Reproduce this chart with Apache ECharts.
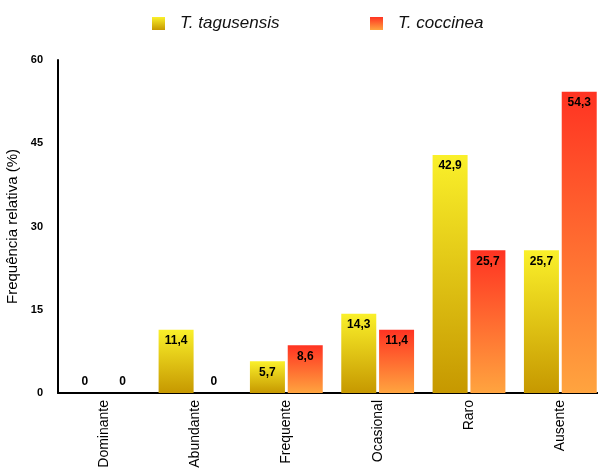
<!DOCTYPE html>
<html>
<head>
<meta charset="utf-8">
<script src="https://cdn.jsdelivr.net/npm/echarts@6/dist/echarts.min.js"></script>
<style>
  html, body { margin: 0; padding: 0; background: #fff; }
  #chart { width: 598px; height: 471px; }
</style>
</head>
<body>
<div id="chart"></div>
<script>
// Abundance classes and relative frequency (%) per species
const categories = ['Dominante', 'Abundante', 'Frequente', 'Ocasional', 'Raro', 'Ausente'];
const seriesNames = ['T. tagusensis', 'T. coccinea'];
const tagusensis = [0, 11.4, 5.7, 14.3, 42.9, 25.7];
const coccinea = [0, 0, 8.6, 11.4, 25.7, 54.3];
const yTicks = [0, 15, 30, 45, 60];

const font = '"Liberation Sans", Arial, sans-serif';

function grad(top, bottom) {
  return new echarts.graphic.LinearGradient(0, 0, 0, 1, [
    { offset: 0, color: top },
    { offset: 1, color: bottom }
  ]);
}

function fmt(v) {
  return v === 0 ? '0' : v.toFixed(1).replace('.', ',');
}

// zero-height bars carry their label above the axis
function withLabels(values) {
  return values.map(v => v === 0
    ? { value: v, label: { position: 'top', distance: 5 } }
    : { value: v });
}

const labelStyle = {
  show: true,
  position: 'insideTop',
  distance: 5,
  color: '#000',
  fontWeight: 'bold',
  fontSize: 12,
  fontFamily: font,
  formatter: p => fmt(p.value)
};

const chart = echarts.init(document.getElementById('chart'), null, { renderer: 'canvas' });

const legendText = { fontSize: 17, fontStyle: 'italic', color: '#111', fontFamily: font, padding: [0, 0, 0, 10] };
const legendBase = { top: 15, padding: 0, itemWidth: 13, itemHeight: 13, icon: 'rect', textStyle: legendText };

chart.setOption({
  animation: false,
  backgroundColor: '#fff',
  legend: [
    Object.assign({ data: [seriesNames[0]], left: 152 }, legendBase),
    Object.assign({ data: [seriesNames[1]], left: 370 }, legendBase)
  ],
  // the last category runs past the right edge of the canvas
  grid: { left: 58, width: 548, top: 60, bottom: 78, containLabel: false, outerBoundsMode: 'none' },
  xAxis: {
    type: 'category',
    data: categories,
    axisLine: { lineStyle: { color: '#000', width: 2 } },
    axisTick: { show: false },
    axisLabel: { rotate: 90, margin: 7, color: '#000', fontSize: 14, fontFamily: font }
  },
  yAxis: {
    type: 'value',
    min: yTicks[0],
    max: yTicks[yTicks.length - 1],
    interval: yTicks[1] - yTicks[0],
    name: 'Frequência relativa (%)',
    nameLocation: 'middle',
    nameGap: 36,
    nameTextStyle: { color: '#000', fontSize: 15, fontFamily: font },
    axisLine: { show: true, lineStyle: { color: '#000', width: 2 } },
    axisTick: { show: false },
    splitLine: { show: false },
    axisLabel: { margin: 15, color: '#000', fontSize: 11, fontWeight: 'bold', fontFamily: font }
  },
  series: [
    {
      name: seriesNames[0],
      type: 'bar',
      data: withLabels(tagusensis),
      barWidth: 35,
      barGap: '8%',
      itemStyle: { color: grad('#faf02a', '#c69800') },
      label: labelStyle
    },
    {
      name: seriesNames[1],
      type: 'bar',
      data: withLabels(coccinea),
      barWidth: 35,
      itemStyle: { color: grad('#ff3322', '#ffa43f') },
      label: labelStyle
    }
  ]
});
</script>
</body>
</html>
